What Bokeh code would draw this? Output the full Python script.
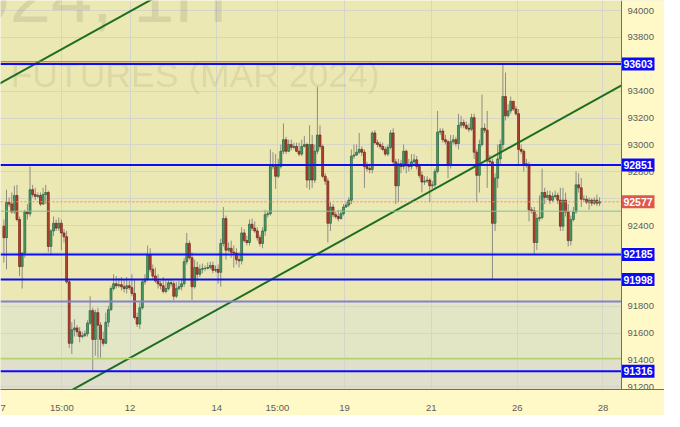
from bokeh.plotting import figure
from bokeh.models import Span, BoxAnnotation, FixedTicker, Range1d, ColumnDataSource, Grid
from bokeh.core.properties import value
from bokeh.embed import file_html
from bokeh.resources import INLINE

# ---------------- data ----------------
first_open = 92395
close = [
    92310, 92574, 92560, 92502, 92624, 92445, 92095, 92195, 92502, 92488,
    92667, 92631, 92617, 92624, 92560, 92631, 92646, 92245, 92360, 92417,
    92381, 92417, 92345, 92317, 91981, 91524, 91624, 91638, 91610, 91574,
    91581, 91595, 91674, 91767, 91553, 91752, 91659, 91553, 91524, 91681, 91774,
    91931, 91967, 91952, 91960, 91945, 91931, 91952, 91938, 91895, 91716, 91667, 91788,
    91981, 92002, 92181, 92074, 92024, 91988, 91967, 91952, 91910, 91931, 91974,
    91967, 91874, 91931, 91945, 91967, 92131, 92267, 92160, 91945, 92088, 92038,
    92074, 92081, 92081, 92088, 92103, 92067, 92074, 92052, 92267, 92452,
    92217, 92231, 92202, 92195, 92146, 92138, 92345, 92288, 92274, 92410, 92381, 92360,
    92310, 92267, 92360, 92481, 92488, 92839,
    92839, 92767, 92839, 92953, 93039, 92953, 93003, 92982, 92989, 92953,
    92932, 92989, 93003, 92739, 93003, 92739, 92953, 93074, 92989, 92767,
    92731, 92417, 92538, 92481, 92467, 92452, 92488, 92538, 92553, 92589, 92917,
    92925, 92946, 92967, 92946, 92839, 92824, 92817, 93089, 93017, 93003,
    92989, 92967, 92932, 92982, 93089, 92874, 92696, 92860, 92839, 92953,
    92846, 92839, 92874, 92889, 92839, 92774, 92724, 92731, 92739, 92696, 92703, 92803,
    93096, 93103, 93039, 93024, 92846, 93024, 93039, 93010, 93146, 93167, 93146, 93124,
    93117, 93203, 92946,
    92774, 93003, 93124, 93110, 92881, 92874, 92417, 92753, 92896, 93003,
    93360, 93217, 93253, 93325, 93267, 93232, 92967, 92953, 92860,
    92853, 92517, 92510, 92274, 92452, 92460, 92646, 92610, 92624, 92589, 92617, 92624,
    92589, 92395, 92589, 92502, 92288, 92445, 92502,
    92703, 92681, 92596, 92596, 92574, 92589, 92567, 92589, 92567, 92577,
]
high = [
    92445, 92667, 92610, 92646, 92696, 92703, 92467, 92202, 92517, 92560,
    92839, 92703, 92681, 92646, 92646, 92681, 92703, 92660, 92374, 92467,
    92445, 92460, 92445, 92374, 92360, 92002, 91681, 91702, 91659, 91645,
    91610, 91620, 91695, 91874, 91788, 91774, 91788, 91681, 91610, 91752, 91802,
    91952, 92038, 92024, 92010, 92017, 92002, 92017, 91990, 92038, 92002, 91752, 91824,
    92002, 92038, 92252, 92231, 92110, 92088, 92038, 91990, 92017, 92002, 92002,
    92002, 91988, 91981, 91988, 92002, 92160, 92345, 92288, 92202, 92146, 92131,
    92110, 92117, 92103, 92124, 92131, 92131, 92103, 92110, 92302, 92538,
    92474, 92274, 92288, 92252, 92231, 92202, 92388, 92374, 92324, 92445, 92452, 92431,
    92388, 92331, 92388, 92517, 92510, 92967,
    92946, 92932, 92896, 93003, 93160, 93060, 93039, 93039, 93017, 93017,
    93017, 93039, 93067, 93017, 93146, 93074, 93003, 93432, 93146, 93003,
    92789, 92753, 92574, 92560, 92500, 92517, 92517, 92560, 92574, 92610, 92967,
    93003, 93003, 93089, 92989, 92967, 92874, 92860, 93103, 93110, 93039,
    93024, 93017, 92989, 93003, 93110, 93124, 92896, 92896, 92889, 93003,
    92967, 92896, 92932, 92932, 92917, 92860, 92803, 92767, 92767, 92753, 92731, 92824,
    93253, 93124, 93124, 93074, 93039, 93074, 93074, 93060, 93232, 93217, 93189, 93174,
    93160, 93232, 93232,
    92967, 93039, 93375, 93160, 93253, 92925, 92896, 92789, 93003, 93039,
    93603, 93539, 93303, 93360, 93303, 93289, 93267, 93003, 92967,
    92896, 92874, 92538, 92538, 92488, 92624, 92824, 92681, 92660, 92660, 92646, 92660,
    92646, 92681, 92681, 92646, 92560, 92474, 92538,
    92803, 92789, 92753, 92624, 92624, 92610, 92603, 92610, 92631, 92610,
]
low = [
    92124, 92074, 92538, 92488, 92488, 92431, 92024, 91931, 92160, 92445,
    92467, 92610, 92589, 92603, 92545, 92553, 92560, 92202, 92188, 92324,
    92360, 92360, 92217, 92274, 91967, 91488, 91445, 91574, 91574, 91531,
    91560, 91570, 91574, 91659, 91320, 91431, 91416, 91416, 91502, 91517, 91645,
    91767, 91917, 91931, 91938, 91917, 91902, 91895, 91920, 91874, 91702, 91645, 91631,
    91774, 91960, 91988, 92052, 92002, 91974, 91931, 91924, 91895, 91895, 91917,
    91945, 91845, 91860, 91917, 91917, 91945, 92110, 92146, 91845, 91931, 91988,
    92017, 92045, 92060, 92074, 92074, 92045, 92052, 91967, 91945, 92245,
    92146, 92202, 92160, 92088, 92110, 92088, 92110, 92274, 92252, 92252, 92360, 92345,
    92288, 92245, 92231, 92324, 92460, 92474,
    92817, 92674, 92753, 92824, 92932, 92932, 92946, 92960, 92967, 92946,
    92917, 92917, 92982, 92681, 92667, 92681, 92717, 92932, 92967, 92753,
    92703, 92274, 92360, 92460, 92452, 92431, 92445, 92474, 92531, 92538, 92560,
    92896, 92917, 92932, 92917, 92681, 92803, 92789, 92789, 93003, 92982,
    92967, 92953, 92917, 92917, 92967, 92846, 92560, 92574, 92789, 92817,
    92789, 92803, 92817, 92846, 92817, 92753, 92646, 92703, 92717, 92574, 92674, 92681,
    92789, 93074, 93017, 93003, 92753, 92824, 93003, 92989, 92967, 93124, 93124, 93110,
    93096, 93103, 92896,
    92574, 92646, 92989, 93089, 92681, 92846, 91995, 92360, 92681, 92860,
    92967, 93182, 93203, 93232, 93253, 93217, 92846, 92932, 92803,
    92831, 92431, 92488, 92181, 92217, 92431, 92445, 92560, 92589, 92560, 92574, 92603,
    92560, 92360, 92360, 92467, 92245, 92252, 92431,
    92488, 92646, 92538, 92574, 92560, 92517, 92545, 92553, 92545, 92545,
]

level_lines = [93603, 92851, 92185, 91998, 91316]
current_price = 92577
red_top_level = 93619
purple_level = 91835
lime_level = 91410
teal_level = 92507

y_ticks = [91200, 91400, 91600, 91800, 92000, 92200, 92400, 92600,
           92800, 93000, 93200, 93400, 93600, 93800, 94000]
x_tick_pos = [-0.3, 23.2, 49.3, 82.5, 105.7, 131.4, 164.6, 197.5, 230.3]
x_tick_labels = ["7", "15:00", "12", "14", "15:00", "19", "21", "26", "28"]

trend_lo_x = [20, 237.4]
trend_lo_y = [91100, 93443]
trend_hi_x = [-1, 70]
trend_hi_y = [93452, 94217]

watermark_1 = "024, 1H"
watermark_2 = "FUTURES (MAR 2024)"

# ---------------- layout constants ----------------
X0, XP = -0.3, 237.4          # chart area (candle index units)
UPX = 237.7 / 621.0           # index units per pixel
XEND = XP + 43 * UPX          # right price panel
Y0, Y1 = 91180, 94075
PPX = (Y1 - Y0) / 389.0       # price units per pixel

# ---------------- derived ----------------
n = len(close)
assert len(high) == n and len(low) == n, (len(close), len(high), len(low))
idx = list(range(1, n + 1))
opens = [first_open] + close[:-1]
up = [c >= o for o, c in zip(opens, close)]
src = ColumnDataSource(dict(
    x=idx, high=high, low=low,
    top=[max(o, c) for o, c in zip(opens, close)],
    bottom=[min(o, c) for o, c in zip(opens, close)],
    fill=["#4F9C6C" if u else "#B8432F" for u in up],
    line=["#2C6A44" if u else "#7A2419" for u in up],
))

# ---------------- figure ----------------
p = figure(frame_width=664, frame_height=389,
           x_range=Range1d(X0, XEND), y_range=Range1d(Y0, Y1),
           y_axis_location=None, output_backend="svg", toolbar_location=None,
           min_border_left=0, min_border_top=0, min_border_right=0, min_border_bottom=22)
p.background_fill_color = "#EBE8B3"
p.border_fill_color = "#FFF9C8"
p.outline_line_color = None
for g in list(p.center):
    if isinstance(g, Grid):
        p.center.remove(g)

# bands
p.add_layout(BoxAnnotation(bottom=lime_level, top=purple_level, fill_color="#E3E6C5",
                           fill_alpha=1, line_color=None, level="image"))
p.add_layout(BoxAnnotation(top=lime_level, fill_color="#DFDFCB",
                           fill_alpha=1, line_color=None, level="image"))

# grids
p.add_layout(Grid(dimension=0, ticker=FixedTicker(ticks=x_tick_pos),
                  grid_line_color="#D5D6C8", grid_line_width=1))
p.add_layout(Grid(dimension=1, ticker=FixedTicker(ticks=y_ticks),
                  grid_line_color="#D5D6C8", grid_line_width=1))

# right price panel background (covers grid)
p.add_layout(BoxAnnotation(left=XP, fill_color="#FFF9C8", fill_alpha=1,
                           line_color=None, level="underlay"))

# x axis
ax = p.xaxis[0]
ax.axis_line_color = "#6E6E6E"
ax.major_tick_line_color = None
ax.minor_tick_line_color = None
ax.major_label_text_color = "#5C5C5C"
ax.major_label_text_font = "Liberation Sans"
ax.major_label_text_font_size = "9.5px"
ax.major_label_standoff = 6
ax.ticker = FixedTicker(ticks=x_tick_pos)
ax.major_label_overrides = {pos: lab for pos, lab in zip(x_tick_pos, x_tick_labels)}

# watermark
p.text(x=[-12.5], y=[Y1 + 4 * PPX], text=[watermark_1], text_font=value("Liberation Sans"),
       text_font_size="74px", text_color="#000000", text_alpha=0.085,
       text_baseline="alphabetic", text_align="left")
p.text(x=[3.6], y=[Y1 - 74 * PPX], text=[watermark_2], text_font=value("Liberation Sans"),
       text_font_size="35.5px", text_color="#000000", text_alpha=0.085,
       text_baseline="alphabetic", text_align="left")

# candles
p.segment(x0="x", y0="high", x1="x", y1="low", source=src, line_color="#8D8D85", line_width=1)
p.vbar(x="x", top="top", bottom="bottom", width=0.72, source=src,
       fill_color="fill", line_color="line", line_width=0.8)

# trend lines
p.line(trend_lo_x, trend_lo_y, line_color="#1E6E22", line_width=2)
p.line(trend_hi_x, trend_hi_y, line_color="#1E6E22", line_width=2)

# horizontal levels (stop at the price axis)
def hline(v, color, width, dash="solid"):
    p.segment(x0=[X0], x1=[XP], y0=[v], y1=[v], line_color=color, line_width=width,
              line_dash=dash)

hline(teal_level, "#6FCB9F", 1)
hline(lime_level, "#B2D46A", 1.5)
hline(purple_level, "#8181CF", 2)
hline(red_top_level, "#D9534F", 1)
hline(current_price, "#EE8A6A", 1, "2 2")
for lv in level_lines:
    hline(lv, "#0D0DF2", 2)

# price axis line
p.add_layout(Span(location=XP, dimension="height", line_color="#6E6E6E", line_width=1))

# y tick labels in the price panel
p.text(x=[XP + 6 * UPX] * len(y_ticks), y=y_ticks, text=[str(t) for t in y_ticks],
       text_font=value("Liberation Sans"), text_font_size="9.5px", text_color="#5C5C5C",
       text_align="left", text_baseline="middle")

# price boxes
box_vals = level_lines + [current_price]
box_cols = ["#0A0AF5"] * len(level_lines) + ["#E0574B"]
p.quad(left=[XP] * len(box_vals), right=[XP + 33 * UPX] * len(box_vals),
       top=[v + 6.5 * PPX for v in box_vals], bottom=[v - 6.5 * PPX for v in box_vals],
       fill_color=box_cols, line_color=None)
p.text(x=[XP + 16.5 * UPX] * len(box_vals), y=box_vals, text=[str(v) for v in box_vals],
       text_font=value("Liberation Sans"), text_font_style="bold", text_font_size="10.5px",
       text_color="white", text_align="center", text_baseline="middle")

open("out.html", "w").write(file_html(p, INLINE))
